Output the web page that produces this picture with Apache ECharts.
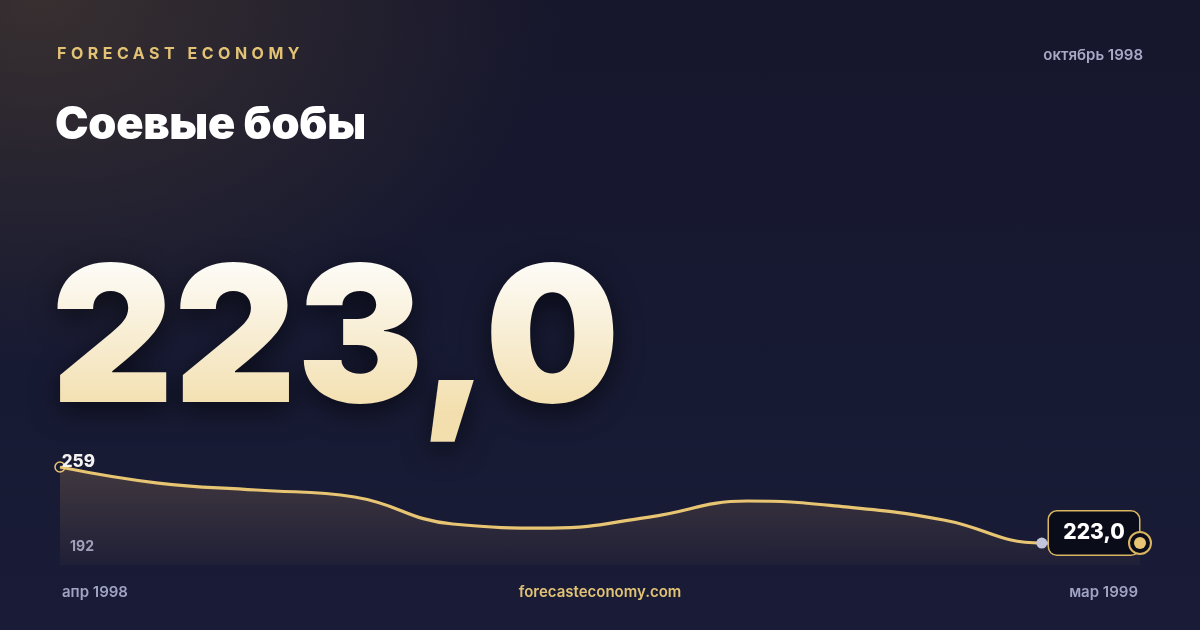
<!DOCTYPE html>
<html>
<head>
<meta charset="utf-8">
<script src="https://cdn.jsdelivr.net/npm/echarts@6/dist/echarts.min.js"></script>
<style>
  html, body { margin: 0; padding: 0; }
  #wrap {
    position: relative; width: 1200px; height: 630px; overflow: hidden;
    font-family: Inter, "Noto Sans", sans-serif;
    background:
      radial-gradient(ellipse 520px 360px at 40px 0px, rgba(70, 58, 50, 0.7), rgba(70, 58, 50, 0) 100%),
      linear-gradient(180deg, #16162c 0%, #171a33 60%, #1a1c37 100%);
  }
  #chart { position: absolute; left: 0; top: 0; width: 1200px; height: 630px; }
  .t { position: absolute; white-space: nowrap; }
  #brand { left: 57px; top: 43px; font-size: 16px; font-weight: 700; letter-spacing: 4.5px; color: #e2c275; }
  #date { right: 57px; top: 45px; font-size: 15px; font-weight: 600; color: #a8a9c6; }
  #title { left: 55px; top: 95px; font-size: 45px; font-weight: 900; color: #ffffff; letter-spacing: -0.3px; }
  #big {
    left: 51px; top: 220px; font-size: 190px; font-weight: 900; letter-spacing: 0px; line-height: 226px;
    background: linear-gradient(180deg, #fdfbf6 20%, #f3dfae 85%);
    -webkit-background-clip: text; background-clip: text; color: transparent;
    filter: drop-shadow(0 8px 14px rgba(0,0,0,0.55));
  }
  #from { left: 62px; top: 582px; font-size: 15px; font-weight: 600; color: #a0a3c2; }
  #site { left: 0; width: 1200px; text-align: center; top: 582px; font-size: 15px; font-weight: 600; color: #e2c275; }
  #to { right: 62px; top: 582px; font-size: 15px; font-weight: 600; color: #a0a3c2; }
</style>
</head>
<body>
<div id="wrap">
  <div id="chart"></div>
  <div class="t" id="brand">FORECAST ECONOMY</div>
  <div class="t" id="date">октябрь 1998</div>
  <div class="t" id="title">Соевые бобы</div>
  <div class="t" id="big">223,0</div>
  <div class="t" id="from">апр 1998</div>
  <div class="t" id="site">forecasteconomy.com</div>
  <div class="t" id="to">мар 1999</div>
</div>
<script>
// monthly prices, apr 1998 .. mar 1999
var months = ['апр 1998', 'май 1998', 'июн 1998', 'июл 1998', 'авг 1998', 'сен 1998',
              'окт 1998', 'ноя 1998', 'дек 1998', 'янв 1999', 'фев 1999', 'мар 1999']
var prices = [259, 251.4, 248.1, 244.8, 232.0, 230.1, 235.3, 242.9, 240.1, 233.9, 223.0, 223.0]
var maxLabel = '259'
var minLabel = '192'
var lastLabel = '223,0'

var gold = '#e8c572'
var chart = echarts.init(document.getElementById('chart'), null, { renderer: 'canvas' })

var last = prices.length - 1
var lineData = prices.map(function (v, i) {
    if (i === 0) {
        return {
            value: v,
            symbol: 'circle', symbolSize: 10,
            itemStyle: { color: 'rgba(0,0,0,0)', borderColor: gold, borderWidth: 1.5 },
            label: {
                show: true, formatter: maxLabel, position: 'right', offset: [-9, -5],
                color: '#f4f2f0', fontSize: 17, fontWeight: 800, fontFamily: 'Inter'
            }
        }
    }
    return { value: v, symbol: 'none' }
})

chart.setOption({
    backgroundColor: 'transparent',
    animation: false,
    grid: { left: 60, right: 60, top: 467, bottom: 65 },
    xAxis: { type: 'category', data: months, boundaryGap: false, show: false },
    yAxis: { type: 'value', min: 212.6, max: 259, show: false },
    graphic: [{
        type: 'text', left: 70, top: 540,
        style: { text: minLabel, fill: '#9b9ec0', font: '700 14px Inter' }
    }],
    series: [
        {
            type: 'line',
            data: lineData,
            smooth: 0.45,
            z: 2,
            showSymbol: true,
            lineStyle: { color: gold, width: 3.2 },
            areaStyle: {
                color: new echarts.graphic.LinearGradient(0, 0, 0, 1, [
                    { offset: 0, color: 'rgba(245,185,110,0.27)' },
                    { offset: 1, color: 'rgba(245,185,110,0.04)' }
                ])
            }
        },
        {
            // previous month marker
            type: 'scatter',
            z: 3,
            data: [[months[last - 1], prices[last - 1]]],
            symbolSize: 11,
            itemStyle: { color: '#c3c5dd', opacity: 1 }
        },
        {
            // value badge for the latest month
            type: 'scatter',
            z: 4,
            data: [[months[last], prices[last]]],
            symbolSize: 1,
            itemStyle: { color: 'rgba(0,0,0,0)', opacity: 1 },
            label: {
                show: true, position: 'inside', offset: [-46, -10],
                formatter: lastLabel,
                color: '#ffffff', fontSize: 21, fontWeight: 800, fontFamily: 'Inter',
                backgroundColor: '#0b0c1a', borderColor: '#d9b560', borderWidth: 1.5,
                borderRadius: 8, width: 90, height: 43, lineHeight: 43, align: 'center', padding: 0
            }
        },
        {
            // end ring
            type: 'scatter',
            z: 6,
            data: [[months[last], prices[last]]],
            symbolSize: 22,
            itemStyle: { color: '#0b0c1a', borderColor: '#d9b560', borderWidth: 2, opacity: 1 }
        },
        {
            type: 'scatter',
            z: 7,
            data: [[months[last], prices[last]]],
            symbolSize: 12,
            itemStyle: { color: gold, opacity: 1 }
        }
    ]
})
</script>
</body>
</html>
